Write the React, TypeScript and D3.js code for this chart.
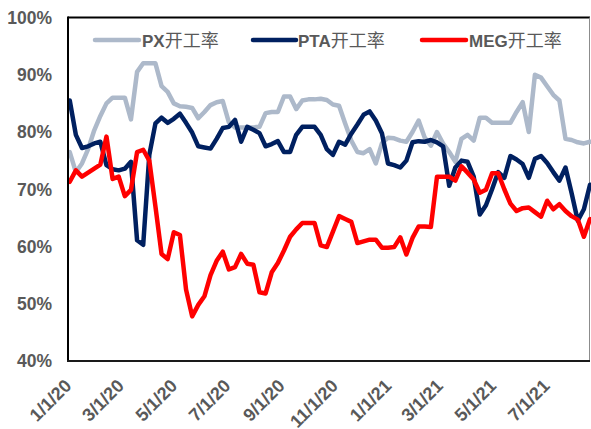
import React from "react";
import * as d3 from "d3";

const dates = [
  "2020-01-03","2020-01-10","2020-01-17","2020-01-24","2020-01-31","2020-02-07","2020-02-14","2020-02-21","2020-02-28","2020-03-06",
  "2020-03-13","2020-03-20","2020-03-27","2020-04-03","2020-04-10","2020-04-17","2020-04-24","2020-05-01","2020-05-08","2020-05-15",
  "2020-05-22","2020-05-29","2020-06-05","2020-06-12","2020-06-19","2020-06-26","2020-07-03","2020-07-10","2020-07-17","2020-07-24",
  "2020-07-31","2020-08-07","2020-08-14","2020-08-21","2020-08-28","2020-09-04","2020-09-11","2020-09-18","2020-09-25","2020-10-02",
  "2020-10-09","2020-10-16","2020-10-23","2020-10-30","2020-11-06","2020-11-13","2020-11-20","2020-11-27","2020-12-04","2020-12-11",
  "2020-12-18","2020-12-25","2021-01-01","2021-01-08","2021-01-15","2021-01-22","2021-01-29","2021-02-05","2021-02-12","2021-02-19",
  "2021-02-26","2021-03-05","2021-03-12","2021-03-19","2021-03-26","2021-04-02","2021-04-09","2021-04-16","2021-04-23","2021-04-30",
  "2021-05-07","2021-05-14","2021-05-21","2021-05-28","2021-06-04","2021-06-11","2021-06-18","2021-06-25","2021-07-02","2021-07-09",
  "2021-07-16","2021-07-23","2021-07-30","2021-08-06","2021-08-13","2021-08-20",
];

const pxValues = [
  76.5,73,74.5,77,80.3,82.8,85,86,86,86,
  82.2,90.5,92,92,92,88,87,85,84.5,84.4,
  84.2,82.4,83.5,84.7,85.2,85.4,81.7,80.8,80.8,80.8,
  80.8,80.9,83.3,83.5,83.5,86.2,86.2,84,85.5,85.7,
  85.7,85.8,85.6,84.8,84.6,81.5,78.5,76.5,76.3,77,
  74.5,78,79,78.9,78.5,78.3,80,82,79,77.6,
  80,78,76.5,74.8,78.8,79.5,78.5,82.5,82.5,81.6,
  81.6,81.6,81.6,83.5,85.2,80,90,89.5,88,86.5,
  85.5,78.8,78.6,78.2,78,78.3,
];

const ptaValues = [
  85.5,79.5,77.2,77.5,78,78.3,74.2,73.5,73.3,73.6,
  74.8,61.1,60.3,76,81.5,82.5,81.6,82.3,83.2,81.6,
  79.9,77.5,77.3,77.1,78.8,80.7,80.9,82.1,78.3,80.9,
  80.4,79.8,77.5,77.9,78.4,76.5,76.5,79.5,80.9,80.9,
  80.9,79.5,77,76,78.3,77.8,79.7,81.3,83,83.6,
  82,79.8,74.5,74.2,73.8,75,78.2,78.4,78.3,78.6,
  78.2,77.5,70.6,73.8,75,74.8,72.2,65.6,67.2,70,
  73,72,75.8,75.2,74.4,72,75.3,75.8,74.6,73,
  71.5,73.8,69.3,64.5,66.5,70.8,
];

const megValues = [
  71.3,73.3,72.2,72.9,73.6,74.3,79.2,71.8,72.2,68.8,
  69.9,76.5,76.9,75,67,58.7,57.8,62.5,62,52.5,
  47.8,49.8,51.3,55,57.5,59.1,56,56.4,58.7,57,
  56.8,52,51.8,55.5,57.1,59.3,61.7,63,64.1,64.1,
  64.1,60.2,59.9,62.6,65.3,64.8,64.3,60.6,60.9,61.2,
  61.2,59.8,59.8,59.9,61.6,58.6,61.5,63.5,63.5,63.4,
  72.2,72.2,72.2,71.5,74,72.9,71.7,69.4,69.9,72.8,
  72.8,70,67.5,66.2,66.7,66.8,66,65.2,68,66.5,
  67.4,66.2,65.3,64.7,61.7,64.8,
];

const seriesNames = ["PX", "PTA", "MEG"];
const seriesSuffix = "开工率";
const yTicks = [40, 50, 60, 70, 80, 90, 100];
const xTickDates = ["2020-01-01","2020-03-01","2020-05-01","2020-07-01","2020-09-01","2020-11-01","2021-01-01","2021-03-01","2021-05-01","2021-07-01"];

const colors = ["#ADB9CA", "#002060", "#FF0000"];

export default function App() {
  const W = 591, H = 429;
  const left = 68, right = 590, top = 17.5, bottom = 361;
  const parse = d3.utcParse("%Y-%m-%d");
  const x = d3.scaleUtc()
    .domain([parse("2020-01-01")!, parse("2021-08-20")!])
    .range([left, right]);
  const y = d3.scaleLinear().domain([40, 100]).range([bottom, top]);
  const fmt = d3.utcFormat("%-m/%-d/%y");
  const parsedDates = dates.map((d) => parse(d)!);
  const allSeries = [pxValues, ptaValues, megValues];
  const line = d3.line<[Date, number]>()
    .x((d) => x(d[0]))
    .y((d) => y(d[1]))
    .curve(d3.curveLinear);

  const latin = "'Liberation Sans', Arial, sans-serif";
  const cjk = "'Noto Sans CJK SC', sans-serif";
  const grey = "#595959";

  const legendItems = [
    { lx1: 95, lx2: 139, tx: 142 },
    { lx1: 253, lx2: 296, tx: 298 },
    { lx1: 422, lx2: 466, tx: 469 },
  ];

  return (
    <svg width={W} height={H} style={{ position: "absolute", left: 0, top: 0, background: "#fff" }}>
      <rect x={0} y={0} width={W} height={H} fill="#fff" />
      <line x1={left} x2={right} y1={top} y2={top} stroke="#000" strokeWidth={2} />
      <line x1={right - 0.5} x2={right - 0.5} y1={top} y2={bottom} stroke="#8c8c8c" strokeWidth={1} />
      {allSeries.map((vals, si) => (
        <path
          key={si}
          d={line(vals.map((v, i) => [parsedDates[i], v] as [Date, number])) || ""}
          fill="none"
          stroke={colors[si]}
          strokeWidth={4.5}
          strokeLinejoin="round"
          strokeLinecap="round"
        />
      ))}
      <line x1={left} x2={left} y1={top - 1} y2={bottom + 1} stroke="#000" strokeWidth={2} />
      <line x1={left - 1} x2={right} y1={bottom} y2={bottom} stroke="#1a1a1a" strokeWidth={2} />
      {yTicks.map((t) => (
        <text
          key={t}
          x={52}
          y={y(t)}
          dy="0.36em"
          textAnchor="end"
          fontFamily={latin}
          fontWeight="bold"
          fontSize={17.5}
          fill={grey}
        >
          {t + "%"}
        </text>
      ))}
      {xTickDates.map((ds) => {
        const d = parse(ds)!;
        const px = x(d) + 4.5;
        const py = 387;
        return (
          <text
            key={ds}
            x={px}
            y={py}
            transform={`rotate(-45 ${px} ${py})`}
            textAnchor="end"
            fontFamily={latin}
            fontWeight="bold"
            fontSize={18}
            fill={grey}
          >
            {fmt(d)}
          </text>
        );
      })}
      {legendItems.map((it, i) => (
        <g key={i}>
          <line x1={it.lx1} x2={it.lx2} y1={40} y2={40} stroke={colors[i]} strokeWidth={4.5} strokeLinecap="round" />
          <text x={it.tx} y={46.5} fontSize={17} fill={grey}>
            <tspan fontFamily={latin} fontWeight="bold">{seriesNames[i]}</tspan>
            <tspan fontFamily={cjk} fontSize={18}>{seriesSuffix}</tspan>
          </text>
        </g>
      ))}
    </svg>
  );
}
